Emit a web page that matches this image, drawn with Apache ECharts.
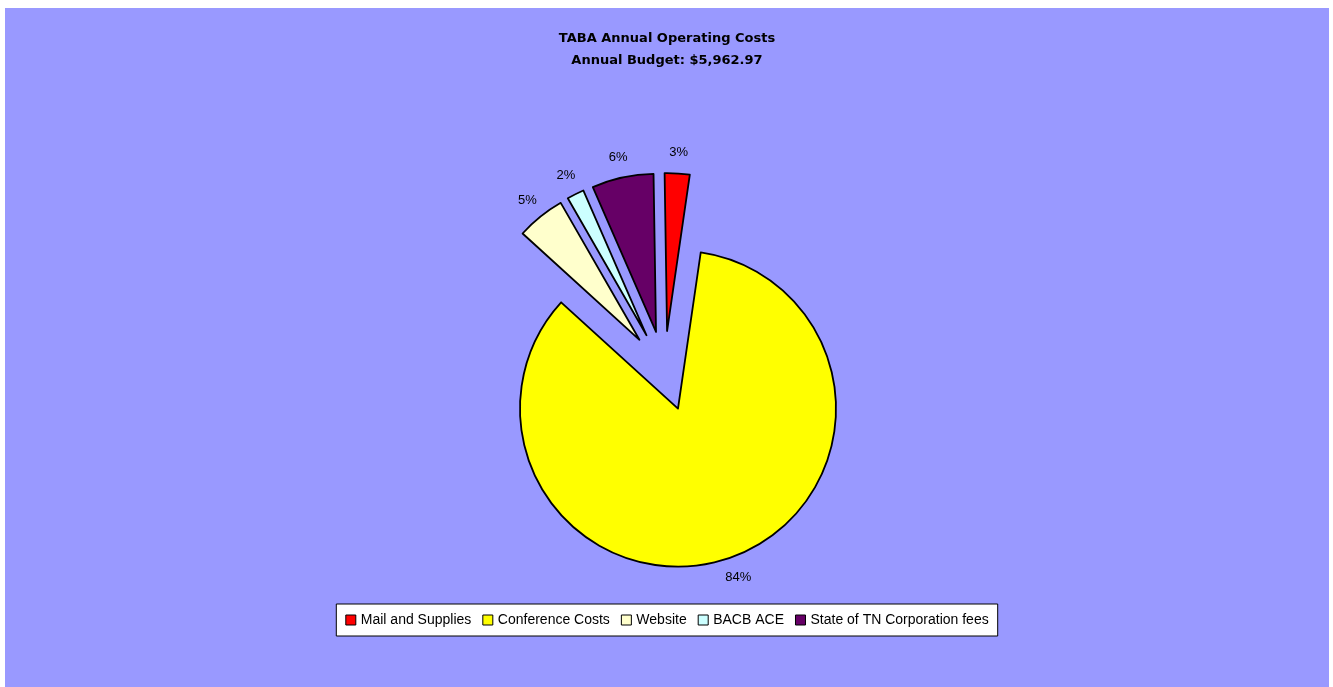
<!DOCTYPE html>
<html>
<head>
<meta charset="utf-8">
<script src="https://cdn.jsdelivr.net/npm/echarts@6/dist/echarts.min.js"></script>
<style>
  html, body { margin: 0; padding: 0; background: #fff; }
  #chart { position: absolute; left: 5px; top: 8px; width: 1324px; height: 679px; }
</style>
</head>
<body>
<div id="chart"></div>
<script>
// budget items (dollars), total 5,962.97
var categories = ["Mail and Supplies", "Conference Costs", "Website", "BACB ACE", "State of TN Corporation fees"];
var amounts = [152.06, 5035.73, 295.17, 104.35, 375.66];
var colors = ["#FF0000", "#FFFF00", "#FFFFCC", "#CCFFFF", "#660066"];
var titleText = "TABA Annual Operating Costs";
var subText = "Annual Budget: $5,962.97";

var chart = echarts.init(document.getElementById("chart"));

var pieCenter = [659.5, 363];
var pieRadius = 158;
var explode = 40;

function build_data(withColor){
    var data = [];
    for(var i = 0; i < categories.length; i++){
        data.push({
            name: categories[i],
            value: amounts[i],
            selected: true,
            itemStyle: withColor ? { color: colors[i] } : { color: "rgba(0,0,0,0)", borderWidth: 0 }
        });
    }
    return data;
}

var titleFont = { fontFamily: "DejaVu Sans", fontWeight: "bold", fontSize: 13, color: "#000" };

var option = {
    backgroundColor: "#9999FF",
    animation: false,
    color: colors,
    title: [
        { text: titleText, left: "center", top: 24, padding: 0, textStyle: titleFont },
        { text: subText, left: "center", top: 46, padding: 0, textStyle: titleFont }
    ],
    legend: {
        data: categories,
        left: "center",
        top: 596,
        orient: "horizontal",
        icon: "rect",
        itemWidth: 10,
        itemHeight: 10,
        itemGap: 11,
        padding: [9, 9],
        backgroundColor: "#fff",
        borderColor: "#000",
        borderWidth: 1,
        selectedMode: false,
        itemStyle: { borderColor: "#000", borderWidth: 1 },
        textStyle: { fontFamily: "Liberation Sans", fontSize: 14, color: "#000" }
    },
    series: [
        {
            name: "costs",
            type: "pie",
            center: pieCenter,
            radius: pieRadius,
            startAngle: 90.9,
            selectedMode: "multiple",
            selectedOffset: explode,
            avoidLabelOverlap: false,
            label: { show: false },
            labelLine: { show: false },
            emphasis: { disabled: true },
            itemStyle: { borderColor: "#000", borderWidth: 1.8 },
            data: build_data(true)
        },
        {
            // transparent ring used only to place the percent labels
            name: "labels",
            type: "pie",
            center: pieCenter,
            radius: [pieRadius + 10, pieRadius + 26],
            startAngle: 90.9,
            selectedMode: "multiple",
            selectedOffset: explode,
            silent: true,
            avoidLabelOverlap: false,
            percentPrecision: 0,
            label: {
                show: true,
                position: "inside",
                formatter: "{d}%",
                fontFamily: "Liberation Sans",
                fontSize: 13,
                color: "#000"
            },
            labelLine: { show: false },
            emphasis: { disabled: true },
            data: build_data(false)
        }
    ]
};
chart.setOption(option);
</script>
</body>
</html>
